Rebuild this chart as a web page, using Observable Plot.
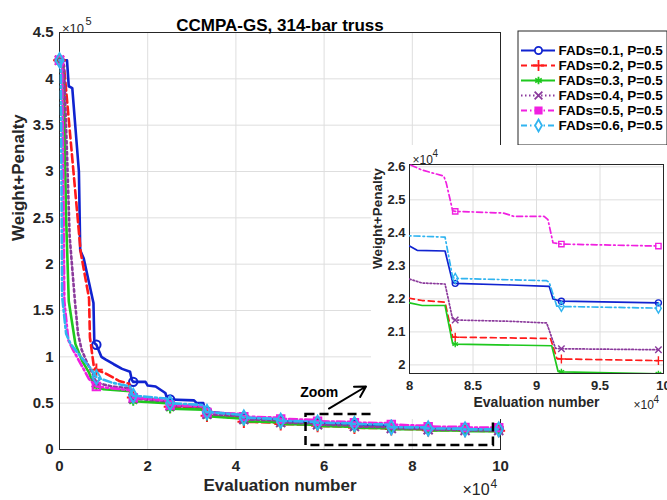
<!DOCTYPE html>
<html><head><meta charset="utf-8">
<script src="https://cdn.jsdelivr.net/npm/d3@7"></script>
<script src="https://cdn.jsdelivr.net/npm/@observablehq/plot@0.6"></script>
<style>
body{margin:0;background:#fff;}
#wrap{position:relative;width:667px;height:500px;overflow:hidden;background:#fff;}
#wrap svg{position:absolute;}
</style></head><body><div id="wrap"></div>
<script>
// ---------- data (evaluation number, weight+penalty) ----------
const seriesNames = ["FADs=0.1, P=0.5","FADs=0.2, P=0.5","FADs=0.3, P=0.5","FADs=0.4, P=0.5","FADs=0.5, P=0.5","FADs=0.6, P=0.5"];
const seriesColors = ["#1023d0","#ff1a1a","#1ec81e","#8b3a9c","#f020e0","#30b4f0"];
const seriesSymbols = ["circle","plus","asterisk","times","square","diamond"];
const markerEvals = [0,8360,16720,25080,33440,41800,50160,58520,66880,75240,83600,91960,99600];
const xTicksMain = [0,20000,40000,60000,80000,100000];
const yTicksMain = [0,50000,100000,150000,200000,250000,300000,350000,400000,450000];
const xTicksInset = [80000,85000,90000,95000,100000];
const yTicksInset = [20000,21000,22000,23000,24000,25000,26000];

const fads01 = [[0,420000],[1700,420000],[2100,392000],[2900,390000],[4400,300000],[4700,215000],[5500,206000],[6700,180000],[7700,158000],[7900,115000],[8360,113000],[9500,100000],[10500,97000],[12300,92000],[14200,87000],[16000,84000],[16400,75000],[16720,73000],[19500,73000],[20000,69000],[21800,68000],[24000,61000],[24500,54000],[25080,54000],[30500,53000],[31000,50500],[32600,50000],[33000,42000],[33440,41000],[41000,37000],[41600,34500],[41800,34000],[49360,32500],[49960,30500],[50160,30500],[57720,29500],[58320,28500],[58520,28500],[66080,27500],[66680,26500],[66880,26500],[74440,25800],[75040,23800],[75240,23700],[80000,23600],[80600,23470],[82800,23450],[83400,22500],[83600,22470],[88000,22420],[91000,22380],[91300,22000],[91700,21950],[91960,21930],[99600,21880]];
const fads02 = [[0,420000],[1000,414000],[1400,393000],[4000,256000],[4800,213000],[5900,184000],[6700,163000],[6900,121000],[7800,89000],[8360,86000],[10500,82000],[13500,74000],[15800,71000],[16300,58000],[16720,56000],[24300,53000],[24800,46000],[25080,46000],[32640,44000],[33240,37000],[33440,36500],[41000,34000],[41600,30500],[41800,30000],[49360,29000],[49960,27500],[50160,27500],[57720,26800],[58320,25500],[58520,25500],[66080,24800],[66680,23500],[66880,23500],[74440,23000],[75040,22100],[75240,22080],[80000,22020],[81000,21950],[82800,21900],[83400,20850],[83600,20840],[91100,20800],[91600,20200],[91960,20180],[99600,20130]];
const fads03 = [[0,420000],[900,410000],[1500,250000],[2100,160000],[3600,114000],[5100,96000],[6700,83000],[7400,74000],[8360,68000],[10000,65000],[16000,63000],[16500,53000],[16720,52000],[24300,50000],[24900,44000],[25080,44000],[32640,43000],[33240,36500],[33440,36000],[41000,33500],[41600,30500],[41800,30500],[49360,29500],[49960,27500],[50160,27500],[57720,26800],[58320,25300],[58520,25300],[66080,24700],[66680,23400],[66880,23400],[74440,22900],[75040,21950],[75240,21930],[80000,21880],[81000,21800],[82800,21800],[83400,20640],[83600,20630],[91200,20580],[91700,19800],[91960,19790],[99600,19730]];
const fads04 = [[0,420000],[1000,415000],[1700,320000],[2300,230000],[3500,160000],[4200,125000],[5000,108000],[6300,93000],[7500,82000],[8360,72000],[12000,68000],[16000,66000],[16500,56000],[16720,55000],[24300,52000],[24900,47000],[25080,47000],[32640,46000],[33240,38500],[33440,38000],[41000,36000],[41600,32500],[41800,32500],[49360,31500],[49960,29000],[50160,29000],[57720,28200],[58320,26800],[58520,26800],[66080,26000],[66680,24800],[66880,24800],[74440,24200],[75040,22700],[75240,22680],[80000,22600],[81000,22480],[82800,22450],[83400,21380],[83600,21360],[88000,21320],[90800,21270],[91500,20500],[91960,20490],[99600,20460]];
const fads05 = [[0,420000],[600,420000],[1100,160000],[2000,118000],[3000,108000],[4400,96000],[6700,76000],[8360,68000],[12000,66000],[16000,64000],[16500,57000],[16720,56000],[24300,53000],[24900,48000],[25080,48000],[32640,47000],[33240,40000],[33440,40000],[41000,38500],[41600,35500],[41800,35500],[49360,34500],[49960,33000],[50160,33000],[57720,32000],[58320,30500],[58520,30500],[66080,29800],[66680,29000],[66880,29000],[74440,28500],[75040,27000],[75240,26950],[80000,26070],[81000,25900],[82700,25720],[82900,25500],[83400,24670],[83600,24650],[87400,24600],[88200,24500],[90600,24500],[90900,24400],[91300,23700],[91960,23660],[99600,23600]];
const fads06 = [[0,420000],[300,420000],[600,165000],[1500,125000],[2500,114000],[5200,98000],[7000,88000],[8360,78000],[12000,72000],[16000,68000],[16500,59000],[16720,58000],[24300,55000],[24900,50000],[25080,50000],[32640,48000],[33240,40500],[33440,40500],[41000,37500],[41600,34500],[41800,34500],[49360,33000],[49960,31000],[50160,31000],[57720,30000],[58320,29000],[58520,29000],[66080,28300],[66680,27500],[66880,27500],[74440,27000],[75040,24000],[75240,23950],[80000,23910],[82800,23870],[83400,22650],[83600,22620],[90800,22550],[91000,22500],[91600,21780],[91960,21770],[99600,21720]];
const seriesData = [fads01,fads02,fads03,fads04,fads05,fads06];

// zoom annotation (data space of main axes)
const zoomBox = [55900, 98400, 4300, 37800];     // x1, x2, y1, y2
const zoomArrow = [61100, 44200, 69500, 68000];  // x1, y1, x2, y2
const zoomLabel = [58900, 61500];

// ---------- styles ----------
const FONT = "'Liberation Sans', Arial, Helvetica, sans-serif";
const dashMain = [null,"8,4",null,"2.5,3","8,3,2,3","8,3,2,3"];
const dashInset = [null,"6,4",null,"1.5,2","6,3,1.5,3","6,3,1.5,3"];
const dashLegend = [null,"6,4",null,"1.5,2.5","6,3,1.5,3","6,3,1.5,3"];
const gridColor = "#dedede";
const axisColor = "#262626";

const wrap = document.getElementById("wrap");

function seriesMarks(strokeWidth, dashes, r, dotWidth, clip) {
  const marks = [];
  seriesData.forEach((data, i) => {
    marks.push(Plot.line(data, {x: d => d[0], y: d => d[1], stroke: seriesColors[i], strokeWidth, strokeDasharray: dashes[i], clip}));
    marks.push(Plot.dot(data.filter(d => markerEvals.includes(d[0])), {x: d => d[0], y: d => d[1], symbol: seriesSymbols[i], stroke: seriesColors[i], fill: "none", r, strokeWidth: dotWidth, clip}));
  });
  return marks;
}

// ---------- main chart ----------
const main = Plot.plot({
  width: 667, height: 500,
  marginLeft: 59, marginRight: 167, marginTop: 32, marginBottom: 51,
  style: {fontFamily: FONT, fontWeight: "bold", fontSize: "15px", color: axisColor, background: "transparent", overflow: "visible"},
  x: {domain: [0, 100000], label: null},
  y: {domain: [0, 450000], label: null},
  marks: [
    Plot.gridX(xTicksMain, {stroke: gridColor, strokeOpacity: 1}),
    Plot.gridY(yTicksMain, {stroke: gridColor, strokeOpacity: 1}),
    Plot.axisX(xTicksMain, {tickSize: 0, tickPadding: 11, tickFormat: d => String(d / 1e4), label: null, fontSize: 15}),
    Plot.axisY(yTicksMain, {tickSize: 0, tickPadding: 6, tickFormat: d => String(d / 1e5), label: null, fontSize: 15}),
    Plot.frame({stroke: axisColor, strokeWidth: 1}),
    ...seriesMarks(2.6, dashMain, 4.2, 2, false),
    Plot.rect([zoomBox], {x1: d => d[0], x2: d => d[1], y1: d => d[2], y2: d => d[3], fill: "none", stroke: "black", strokeWidth: 2.5, strokeDasharray: "9,5"}),
    Plot.arrow([zoomArrow], {x1: d => d[0], y1: d => d[1], x2: d => d[2], y2: d => d[3], stroke: "black", strokeWidth: 2, headLength: 9}),
    Plot.text([zoomLabel], {x: d => d[0], y: d => d[1], text: () => "Zoom", fontSize: 14, fontWeight: "bold", fill: "black"}),
    Plot.text(["CCMPA-GS, 314-bar truss"], {frameAnchor: "top", dy: -13.4, text: d => d, fontSize: 17, fontWeight: "bold", fill: "black"}),
    Plot.text(["Weight+Penalty"], {frameAnchor: "left", dx: -40.5, rotate: -90, text: d => d, fontSize: 17, fontWeight: "bold", fill: axisColor}),
    Plot.text(["Evaluation number"], {frameAnchor: "bottom", dy: 41.5, text: d => d, fontSize: 17, fontWeight: "bold", fill: axisColor}),
    Plot.text(["\u00d710"], {frameAnchor: "top-left", dx: 2.5, dy: -9.2, textAnchor: "start", text: d => d, fontSize: 13, fontWeight: "normal", fill: axisColor}),
    Plot.text(["5"], {frameAnchor: "top-left", dx: 26, dy: -15.5, textAnchor: "start", text: d => d, fontSize: 11, fontWeight: "normal", fill: axisColor}),
    Plot.text(["\u00d710"], {frameAnchor: "bottom-right", dx: -38, dy: 45, textAnchor: "start", text: d => d, fontSize: 16, fontWeight: "normal", fill: axisColor}),
    Plot.text(["4"], {frameAnchor: "bottom-right", dx: -10, dy: 38, textAnchor: "start", text: d => d, fontSize: 12, fontWeight: "normal", fill: axisColor})
  ]
});
main.style.left = "0px"; main.style.top = "0px";
wrap.appendChild(main);

// ---------- inset ----------
const inset = Plot.plot({
  width: 296, height: 274,
  marginLeft: 38, marginRight: 4, marginTop: 19, marginBottom: 46,
  style: {fontFamily: FONT, fontWeight: "bold", fontSize: "13px", color: axisColor, background: "white", overflow: "visible"},
  x: {domain: [80000, 100000], label: null},
  y: {domain: [19740, 26070], label: null},
  marks: [
    Plot.gridX(xTicksInset, {stroke: gridColor, strokeOpacity: 1}),
    Plot.gridY(yTicksInset, {stroke: gridColor, strokeOpacity: 1}),
    Plot.axisX(xTicksInset, {tickSize: 0, tickPadding: 7.5, tickFormat: d => String(d / 1e4), label: null, fontSize: 13}),
    Plot.axisY(yTicksInset, {tickSize: 0, tickPadding: 4, tickFormat: d => String(d / 1e4), label: null, fontSize: 13}),
    Plot.frame({stroke: axisColor, strokeWidth: 1}),
    ...seriesMarks(1.7, dashInset, 3, 1.4, true),
    Plot.text(["Weight+Penalty"], {frameAnchor: "left", dx: -32, rotate: -90, text: d => d, fontSize: 13.5, fontWeight: "bold", fill: axisColor}),
    Plot.text(["Evaluation number"], {frameAnchor: "bottom", dy: 33, text: d => d, fontSize: 14, fontWeight: "bold", fill: axisColor}),
    Plot.text(["\u00d710"], {frameAnchor: "top-left", dx: 3, dy: -9.5, textAnchor: "start", text: d => d, fontSize: 12, fontWeight: "normal", fill: axisColor}),
    Plot.text(["4"], {frameAnchor: "top-left", dx: 23, dy: -14.2, textAnchor: "start", text: d => d, fontSize: 10, fontWeight: "normal", fill: axisColor}),
    Plot.text(["\u00d710"], {frameAnchor: "bottom-right", dx: -30, dy: 35, textAnchor: "start", text: d => d, fontSize: 12, fontWeight: "normal", fill: axisColor}),
    Plot.text(["4"], {frameAnchor: "bottom-right", dx: -10, dy: 29, textAnchor: "start", text: d => d, fontSize: 10, fontWeight: "normal", fill: axisColor})
  ]
});
inset.style.left = "371px"; inset.style.top = "145px";
wrap.appendChild(inset);

// ---------- legend ----------
const legendMarks = [];
seriesNames.forEach((name, i) => {
  legendMarks.push(Plot.ruleY([name], {y: d => d, x1: 4, x2: 38, stroke: seriesColors[i], strokeWidth: 2, strokeDasharray: dashLegend[i]}));
  legendMarks.push(Plot.dot([name], {y: d => d, x: 21, symbol: seriesSymbols[i], stroke: seriesColors[i], fill: seriesSymbols[i] === "square" ? seriesColors[i] : "white", r: 3.6, strokeWidth: 1.8}));
});
const legend = Plot.plot({
  width: 150, height: 115, margin: 0,
  style: {fontFamily: FONT, fontWeight: "bold", fontSize: "13.5px", color: "black", background: "white"},
  x: {domain: [0, 150], range: [0, 150], axis: null},
  y: {type: "point", domain: seriesNames, range: [12, 102], axis: null},
  marks: [
    ...legendMarks,
    Plot.text(seriesNames, {x: 41, y: d => d, text: d => d, textAnchor: "start", fontSize: 13.5, fontWeight: "bold", fill: "black"}),
    Plot.frame({stroke: axisColor, strokeWidth: 1, inset: 0.5})
  ]
});
legend.style.left = "517px"; legend.style.top = "30px";
wrap.appendChild(legend);
</script></body></html>
